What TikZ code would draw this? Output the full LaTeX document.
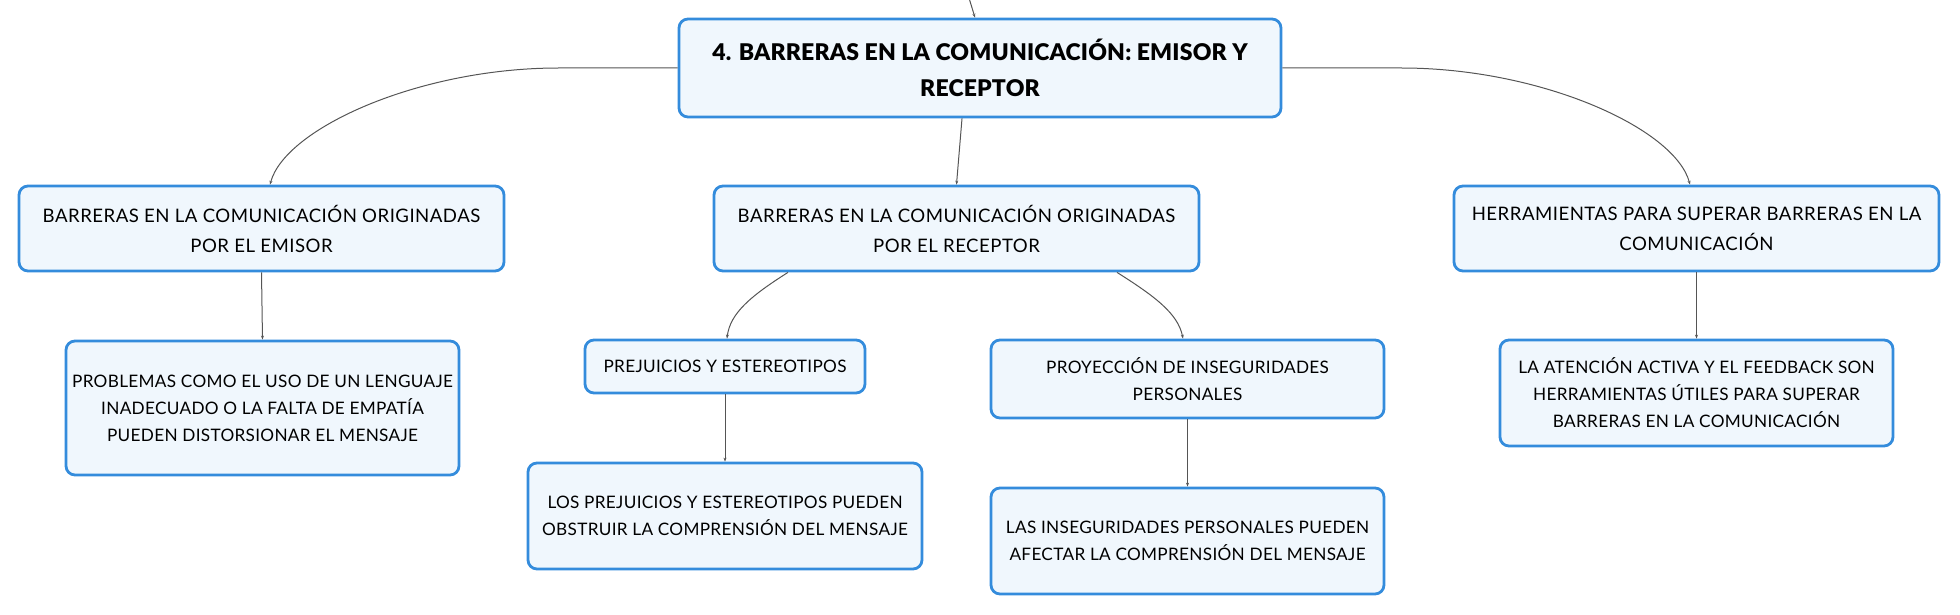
\documentclass[tikz,border=0pt]{standalone}
\usepackage{fontspec}
\setmainfont{Lato}[BoldFont={Lato Black}]
\usetikzlibrary{arrows.meta}
\definecolor{boxblue}{RGB}{52,140,220}
\definecolor{boxfill}{RGB}{240,247,253}
\definecolor{linegray}{RGB}{85,85,85}
\begin{document}
\begin{tikzpicture}[x=1pt,y=-1pt,
  box/.style={draw=boxblue, line width=2.8pt, rounded corners=9pt, fill=boxfill,
    inner sep=0pt, align=center, text=black},
  titlebox/.style={box, font=\fontsize{23}{36}\selectfont\bfseries\addfontfeatures{LetterSpace=0.8}},
  headbox/.style={box, font=\fontsize{18.6}{30}\selectfont\addfontfeatures{LetterSpace=2.6}},
  leafbox/.style={box, font=\fontsize{17.2}{27}\selectfont\addfontfeatures{LetterSpace=1.8}},
  conn/.style={draw=linegray, line width=1pt, -{Stealth[length=4pt,width=3pt]}}]
\useasboundingbox (0,0) rectangle (1960,615);

\node[titlebox, minimum width=602pt, minimum height=98pt] (main) at (980,68)
  {4. BARRERAS EN LA COMUNICACIÓN: EMISOR Y\\RECEPTOR};
\node[headbox, minimum width=485pt, minimum height=85pt] (emisor) at (261.5,228.5)
  {BARRERAS EN LA COMUNICACIÓN ORIGINADAS\\POR EL EMISOR};
\node[headbox, minimum width=485pt, minimum height=85pt] (receptor) at (956.5,228.5)
  {BARRERAS EN LA COMUNICACIÓN ORIGINADAS\\POR EL RECEPTOR};
\node[headbox, minimum width=485pt, minimum height=85pt] (herr) at (1696.5,228.5)
  {HERRAMIENTAS PARA SUPERAR BARRERAS EN LA\\COMUNICACIÓN};
\node[leafbox, minimum width=393pt, minimum height=134pt] (prob) at (262.5,408)
  {PROBLEMAS COMO EL USO DE UN LENGUAJE\\INADECUADO O LA FALTA DE EMPATÍA\\PUEDEN DISTORSIONAR EL MENSAJE};
\node[leafbox, minimum width=280pt, minimum height=53pt] (prej) at (725,366.5)
  {PREJUICIOS Y ESTEREOTIPOS};
\node[leafbox, minimum width=393pt, minimum height=78pt] (proy) at (1187.5,379)
  {PROYECCIÓN DE INSEGURIDADES\\PERSONALES};
\node[leafbox, minimum width=393pt, minimum height=106pt] (atenc) at (1696.5,393)
  {LA ATENCIÓN ACTIVA Y EL FEEDBACK SON\\HERRAMIENTAS ÚTILES PARA SUPERAR\\BARRERAS EN LA COMUNICACIÓN};
\node[leafbox, minimum width=394pt, minimum height=106pt] (losprej) at (725,516)
  {LOS PREJUICIOS Y ESTEREOTIPOS PUEDEN\\OBSTRUIR LA COMPRENSIÓN DEL MENSAJE};
\node[leafbox, minimum width=393pt, minimum height=106pt] (lasins) at (1187.5,541)
  {LAS INSEGURIDADES PERSONALES PUEDEN\\AFECTAR LA COMPRENSIÓN DEL MENSAJE};

\coordinate (top) at (969,-2);
\draw[conn] (top) -- ([xshift=-5pt]main.north);
\draw[conn] (main.west) -- ++(-119,0) .. controls +(-140,0) and +(15,-56) .. ([xshift=8.5pt]emisor.north);
\draw[conn] (main.east) -- ++(119,0) .. controls +(140,0) and +(-15,-56) .. ([xshift=-6.5pt]herr.north);
\draw[conn] ([xshift=-18pt]main.south) -- (receptor.north);
\draw[conn] (emisor.south) -- (prob.north);
\draw[conn] ([xshift=-168.5pt]receptor.south) .. controls +(-38,24) and +(3,-25) .. ([xshift=2pt]prej.north);
\draw[conn] ([xshift=160.5pt]receptor.south) .. controls +(38,24) and +(-5,-25) .. ([xshift=-4.5pt]proy.north);
\draw[conn] (prej.south) -- (losprej.north);
\draw[conn] (proy.south) -- (lasins.north);
\draw[conn] (herr.south) -- (atenc.north);
\end{tikzpicture}
\end{document}
